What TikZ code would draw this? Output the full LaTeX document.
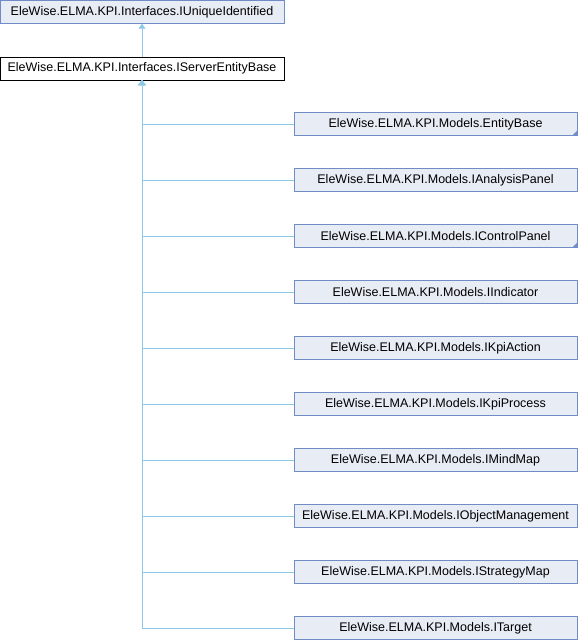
\documentclass[tikz,border=0pt]{standalone}
\usepackage{fontspec}
\setmainfont{Liberation Sans}
\usetikzlibrary{arrows.meta,positioning}

\definecolor{boxfill}{RGB}{232,236,245}
\definecolor{boxline}{RGB}{112,140,200}
\definecolor{edgeblue}{RGB}{140,200,232}

\tikzset{
  cls/.style={draw=boxline,fill=boxfill,minimum width=283pt,minimum height=23pt,
    inner sep=0pt,font=\fontsize{12.5}{14}\selectfont},
  curcls/.style={cls,draw=black,fill=white},
  inh/.style={draw=edgeblue,line width=0.8pt,-{Triangle[width=7pt,length=5pt]}},
  more/.style={fill=boxline}
}

\begin{document}
\begin{tikzpicture}[x=1pt,y=-1pt]
\useasboundingbox (0,0) rectangle (578,640);
\node[cls,minimum width=284pt] (uid) at (142,12) {EleWise.ELMA.KPI.Interfaces.IUniqueIdentified};
\node[curcls,minimum width=284pt] (seb) at (142,68.5) {EleWise.ELMA.KPI.Interfaces.IServerEntityBase};

\node[cls] (entbase) at (435.5,124) {EleWise.ELMA.KPI.Models.EntityBase};
\node[cls] (analysis) at (435.5,180) {EleWise.ELMA.KPI.Models.IAnalysisPanel};
\node[cls] (control) at (435.5,236) {EleWise.ELMA.KPI.Models.IControlPanel};
\node[cls] (indicator) at (435.5,292) {EleWise.ELMA.KPI.Models.IIndicator};
\node[cls] (action) at (435.5,348) {EleWise.ELMA.KPI.Models.IKpiAction};
\node[cls] (process) at (435.5,404) {EleWise.ELMA.KPI.Models.IKpiProcess};
\node[cls] (mindmap) at (435.5,460) {EleWise.ELMA.KPI.Models.IMindMap};
\node[cls] (objmgmt) at (435.5,516) {EleWise.ELMA.KPI.Models.IObjectManagement};
\node[cls] (strategy) at (435.5,572) {EleWise.ELMA.KPI.Models.IStrategyMap};
\node[cls] (target) at (435.5,628) {EleWise.ELMA.KPI.Models.ITarget};

% truncated subtrees
\fill[more] (entbase.south east) -- ++(-5,0) -- ++(5,-5) -- cycle;
\fill[more] (control.south east) -- ++(-5,0) -- ++(5,-5) -- cycle;

\draw[inh] (seb) -- (uid);
\draw[inh] (entbase.west) -| (seb.south);
\draw[inh] (analysis.west) -| (seb.south);
\draw[inh] (control.west) -| (seb.south);
\draw[inh] (indicator.west) -| (seb.south);
\draw[inh] (action.west) -| (seb.south);
\draw[inh] (process.west) -| (seb.south);
\draw[inh] (mindmap.west) -| (seb.south);
\draw[inh] (objmgmt.west) -| (seb.south);
\draw[inh] (strategy.west) -| (seb.south);
\draw[inh] (target.west) -| (seb.south);
\end{tikzpicture}
\end{document}
